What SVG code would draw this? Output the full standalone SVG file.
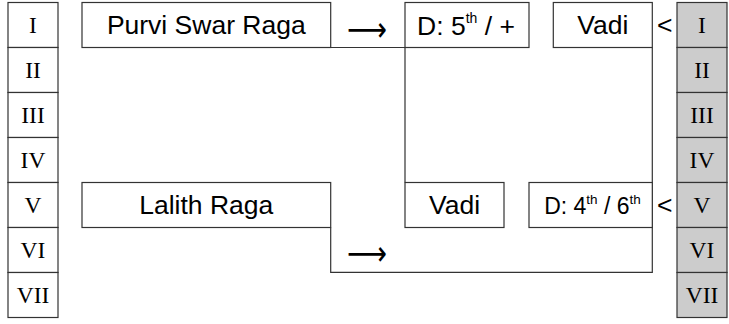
<svg xmlns="http://www.w3.org/2000/svg" width="729" height="324" viewBox="0 0 729 324">
<style>
.box{fill:#fff;stroke:#333;stroke-width:1.2}
.gbox{fill:#cccccc;stroke:#333;stroke-width:1.2}
.ln{fill:none;stroke:#333;stroke-width:1.2}
.rn{font-family:"Liberation Serif",serif;font-size:23.5px;fill:#000;text-anchor:middle}
.t{font-family:"Liberation Sans",Arial,sans-serif;font-size:26.5px;fill:#000;text-anchor:middle}
.t2{font-family:"Liberation Sans",Arial,sans-serif;font-size:23px;fill:#000;text-anchor:middle}
.lt{font-family:"Liberation Sans",Arial,sans-serif;font-size:26.5px;fill:#000}
.arr{font-family:"DejaVu Sans",sans-serif;font-size:34px;fill:#000}
</style>
<rect width="729" height="324" fill="#fff"/>
<g id="left-scale">
<rect class="box" x="8" y="2.5" width="50" height="45"/>
<rect class="box" x="8" y="47.5" width="50" height="45"/>
<rect class="box" x="8" y="92.5" width="50" height="45"/>
<rect class="box" x="8" y="137.5" width="50" height="45"/>
<rect class="box" x="8" y="182.5" width="50" height="45"/>
<rect class="box" x="8" y="227.5" width="50" height="45"/>
<rect class="box" x="8" y="272.5" width="50" height="45"/>
<text class="rn" x="33" y="33">I</text>
<text class="rn" x="33" y="78">II</text>
<text class="rn" x="33" y="123">III</text>
<text class="rn" x="33" y="168">IV</text>
<text class="rn" x="33" y="213">V</text>
<text class="rn" x="33" y="258">VI</text>
<text class="rn" x="33" y="303">VII</text>
</g>
<g id="right-scale">
<rect class="gbox" x="677" y="2.5" width="50" height="45"/>
<rect class="gbox" x="677" y="47.5" width="50" height="45"/>
<rect class="gbox" x="677" y="92.5" width="50" height="45"/>
<rect class="gbox" x="677" y="137.5" width="50" height="45"/>
<rect class="gbox" x="677" y="182.5" width="50" height="45"/>
<rect class="gbox" x="677" y="227.5" width="50" height="45"/>
<rect class="gbox" x="677" y="272.5" width="50" height="45"/>
<text class="rn" x="702" y="33">I</text>
<text class="rn" x="702" y="78">II</text>
<text class="rn" x="702" y="123">III</text>
<text class="rn" x="702" y="168">IV</text>
<text class="rn" x="702" y="213">V</text>
<text class="rn" x="702" y="258">VI</text>
<text class="rn" x="702" y="303">VII</text>
</g>
<g id="connectors">
<polyline class="ln" points="330.7,47.5 405,47.5 405,182.5"/>
<polyline class="ln" points="330.7,227.5 330.7,272.3 652.3,272.3 652.3,47.5"/>
<text class="arr" x="347" y="40.5" textLength="40" lengthAdjust="spacingAndGlyphs">⟶</text>
<text class="arr" x="347" y="264.5" textLength="40" lengthAdjust="spacingAndGlyphs">⟶</text>
<text class="lt" x="657" y="34">&lt;</text>
<text class="lt" x="657" y="214">&lt;</text>
</g>
<g id="purvi">
<rect class="box" x="82" y="2.5" width="248.7" height="45"/>
<text class="t" x="206.3" y="34">Purvi Swar Raga</text>
</g>
<g id="d5">
<rect class="box" x="405" y="2.5" width="124" height="45"/>
<text class="t" x="466" y="34.5">D: 5<tspan font-size="14" dy="-12">th</tspan><tspan dy="12"> / +</tspan></text>
</g>
<g id="vadi-top">
<rect class="box" x="553.3" y="2.5" width="99" height="45"/>
<text class="t" x="602.8" y="34">Vadi</text>
</g>
<g id="lalith">
<rect class="box" x="82" y="182.5" width="248.7" height="45"/>
<text class="t" x="206.3" y="214">Lalith Raga</text>
</g>
<g id="vadi-low">
<rect class="box" x="405" y="182.5" width="99" height="45"/>
<text class="t" x="454.5" y="214">Vadi</text>
</g>
<g id="d46">
<rect class="box" x="529" y="182.5" width="123.3" height="45"/>
<text class="t2" x="592.5" y="214">D: 4<tspan font-size="13.5" dy="-10.5">th</tspan><tspan dy="10.5"> / 6</tspan><tspan font-size="13.5" dy="-10.5">th</tspan></text>
</g>
</svg>
